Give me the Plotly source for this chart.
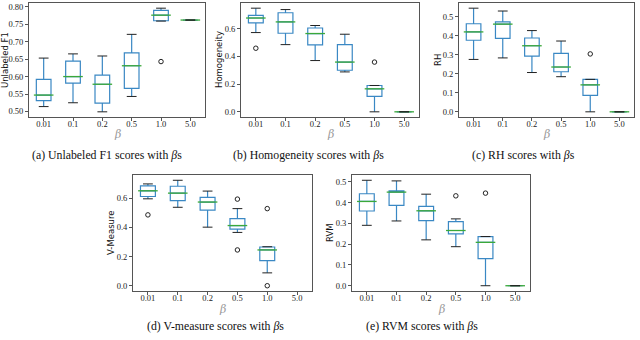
import plotly.graph_objects as go

BETAS = ["0.01", "0.1", "0.2", "0.5", "1.0", "5.0"]

# (a) Unlabeled F1
F1_LOW = [0.514, 0.525, 0.499, 0.543, 0.759, 0.762]
F1_Q1 = [0.531, 0.581, 0.524, 0.566, 0.760, 0.762]
F1_MED = [0.547, 0.600, 0.578, 0.631, 0.776, 0.762]
F1_Q3 = [0.592, 0.644, 0.604, 0.668, 0.790, 0.762]
F1_HIGH = [0.653, 0.665, 0.659, 0.721, 0.796, 0.762]
F1_OUT_X = ["1.0"]
F1_OUT_Y = [0.643]

# (b) Homogeneity
HOM_LOW = [0.572, 0.485, 0.370, 0.288, 0.0, 0.0]
HOM_Q1 = [0.642, 0.567, 0.483, 0.300, 0.112, 0.0]
HOM_MED = [0.677, 0.649, 0.565, 0.359, 0.166, 0.0]
HOM_Q3 = [0.696, 0.715, 0.605, 0.485, 0.190, 0.0]
HOM_HIGH = [0.748, 0.738, 0.623, 0.560, 0.190, 0.0]
HOM_OUT_X = ["0.01", "1.0"]
HOM_OUT_Y = [0.459, 0.359]

# (c) RH
RH_LOW = [0.276, 0.284, 0.207, 0.185, 0.0, 0.0]
RH_Q1 = [0.377, 0.387, 0.293, 0.211, 0.087, 0.0]
RH_MED = [0.421, 0.462, 0.348, 0.236, 0.142, 0.0]
RH_Q3 = [0.464, 0.474, 0.389, 0.308, 0.171, 0.0]
RH_HIGH = [0.546, 0.531, 0.428, 0.373, 0.171, 0.0]
RH_OUT_X = ["1.0"]
RH_OUT_Y = [0.305]

# (d) V-Measure (nothing at 5.0)
VM_LOW = [0.595, 0.537, 0.401, 0.365, 0.088]
VM_Q1 = [0.611, 0.582, 0.518, 0.387, 0.172]
VM_MED = [0.650, 0.634, 0.573, 0.412, 0.245]
VM_Q3 = [0.684, 0.681, 0.605, 0.460, 0.265]
VM_HIGH = [0.697, 0.722, 0.648, 0.528, 0.267]
VM_OUT_X = ["0.01", "0.5", "0.5", "1.0", "1.0"]
VM_OUT_Y = [0.485, 0.593, 0.245, 0.528, 0.0]

# (e) RVM
RVM_LOW = [0.291, 0.312, 0.221, 0.188, 0.0, 0.0]
RVM_Q1 = [0.360, 0.387, 0.314, 0.250, 0.131, 0.0]
RVM_MED = [0.406, 0.451, 0.361, 0.266, 0.209, 0.0]
RVM_Q3 = [0.443, 0.457, 0.382, 0.309, 0.237, 0.0]
RVM_HIGH = [0.508, 0.505, 0.441, 0.322, 0.237, 0.0]
RVM_OUT_X = ["0.5", "1.0"]
RVM_OUT_Y = [0.433, 0.446]

BLUE = "#3a88c4"
GREEN = "#3aa83a"
FRAME = "#555555"
W, H = 640, 340

# pixels: plot left, right, top, bottom, y-title x, caption centre x, caption y
panels = [
    ("Unlabeled F1", "(a) Unlabeled F1 scores with <i>β</i>s",
     (F1_LOW, F1_Q1, F1_MED, F1_Q3, F1_HIGH, F1_OUT_X, F1_OUT_Y), 0.05, ".2f",
     (29, 205, 3, 117, 5, 107, 155)),
    ("Homogeneity", "(b) Homogeneity scores with <i>β</i>s",
     (HOM_LOW, HOM_Q1, HOM_MED, HOM_Q3, HOM_HIGH, HOM_OUT_X, HOM_OUT_Y), 0.2, ".1f",
     (241, 419, 3, 117, 219, 308, 155)),
    ("RH", "(c) RH scores with <i>β</i>s",
     (RH_LOW, RH_Q1, RH_MED, RH_Q3, RH_HIGH, RH_OUT_X, RH_OUT_Y), 0.1, ".1f",
     (459, 634, 3, 117, 438, 523, 155)),
    ("V-Measure", "(d) V-measure scores with <i>β</i>s",
     (VM_LOW, VM_Q1, VM_MED, VM_Q3, VM_HIGH, VM_OUT_X, VM_OUT_Y), 0.2, ".1f",
     (133, 312, 175, 291, 111, 215, 326)),
    ("RVM", "(e) RVM scores with <i>β</i>s",
     (RVM_LOW, RVM_Q1, RVM_MED, RVM_Q3, RVM_HIGH, RVM_OUT_X, RVM_OUT_Y), 0.1, ".1f",
     (352, 530, 175, 291, 330, 422, 326)),
]

fig = go.Figure()
layout = {}
annotations = []

for i, (ytitle, caption, stats, dtick, fmt, box) in enumerate(panels):
    n = i + 1
    sfx = "" if n == 1 else str(n)
    low, q1, med, q3, high, out_x, out_y = stats
    left, right, top, bottom, title_x, cap_x, cap_y = box
    xdom = [left / W, right / W]
    ydom = [1 - bottom / H, 1 - top / H]
    xs = BETAS[:len(med)]
    ax = dict(xaxis="x" + sfx, yaxis="y" + sfx)

    fig.add_trace(go.Box(
        x=xs, q1=q1, median=med, q3=q3, lowerfence=low, upperfence=high,
        boxpoints=False, width=0.5, whiskerwidth=0,
        line=dict(color=BLUE, width=1.2), fillcolor="rgba(0,0,0,0)", **ax))
    fig.add_trace(go.Scatter(
        x=xs, y=med, mode="markers",
        marker=dict(symbol="line-ew", size=14, line=dict(color=GREEN, width=1.3)), **ax))
    fig.add_trace(go.Scatter(
        x=xs + xs, y=low + high, mode="markers",
        marker=dict(symbol="line-ew", size=7, line=dict(color="#222", width=1)), **ax))
    fig.add_trace(go.Scatter(
        x=out_x, y=out_y, mode="markers",
        marker=dict(symbol="circle-open", size=4.5, color="#222", line=dict(color="#222", width=1)), **ax))

    vals = low + high + out_y
    lo, hi = min(vals), max(vals)
    pad = 0.05 * (hi - lo)

    tickfont = dict(family="Liberation Serif", size=8.5, color="#222")
    layout["xaxis" + sfx] = dict(
        domain=xdom, anchor="y" + sfx, type="category", automargin=False,
        categoryorder="array", categoryarray=BETAS, range=[-0.5, 5.5],
        showline=True, linecolor=FRAME, linewidth=1, mirror=True,
        ticks="outside", ticklen=3, tickcolor=FRAME, showgrid=False,
        ticklabelstandoff=-4, tickfont=tickfont)
    layout["yaxis" + sfx] = dict(
        domain=ydom, anchor="x" + sfx, range=[lo - pad, hi + pad], automargin=False,
        dtick=dtick, tickformat=fmt,
        showline=True, linecolor=FRAME, linewidth=1, mirror=True,
        ticks="outside", ticklen=3, tickcolor=FRAME, showgrid=False, zeroline=False,
        tickfont=tickfont)

    # y title, beta label, caption
    annotations.append(dict(
        text=ytitle, xref="paper", yref="paper", x=title_x / W,
        y=(ydom[0] + ydom[1]) / 2, textangle=-90, xanchor="center", yanchor="middle",
        showarrow=False, font=dict(family="DejaVu Sans", size=8.5, color="#111")))
    annotations.append(dict(
        text="<i>β</i>", xref="paper", yref="paper", x=(xdom[0] + xdom[1]) / 2,
        y=1 - (bottom + 18) / H, xanchor="center", yanchor="middle",
        showarrow=False, font=dict(family="DejaVu Serif", size=11, color="#999")))
    annotations.append(dict(
        text=caption, xref="paper", yref="paper", x=cap_x / W,
        y=1 - cap_y / H, xanchor="center", yanchor="middle", showarrow=False,
        font=dict(family="Liberation Serif", size=11.8, color="#111")))

fig.update_layout(
    width=W, height=H, margin=dict(l=0, r=0, t=0, b=0),
    plot_bgcolor="white", paper_bgcolor="white", showlegend=False,
    annotations=annotations, **layout)

fig.write_html("out.html", config={"displayModeBar": False},
               post_script="document.body.style.margin='0px';")
